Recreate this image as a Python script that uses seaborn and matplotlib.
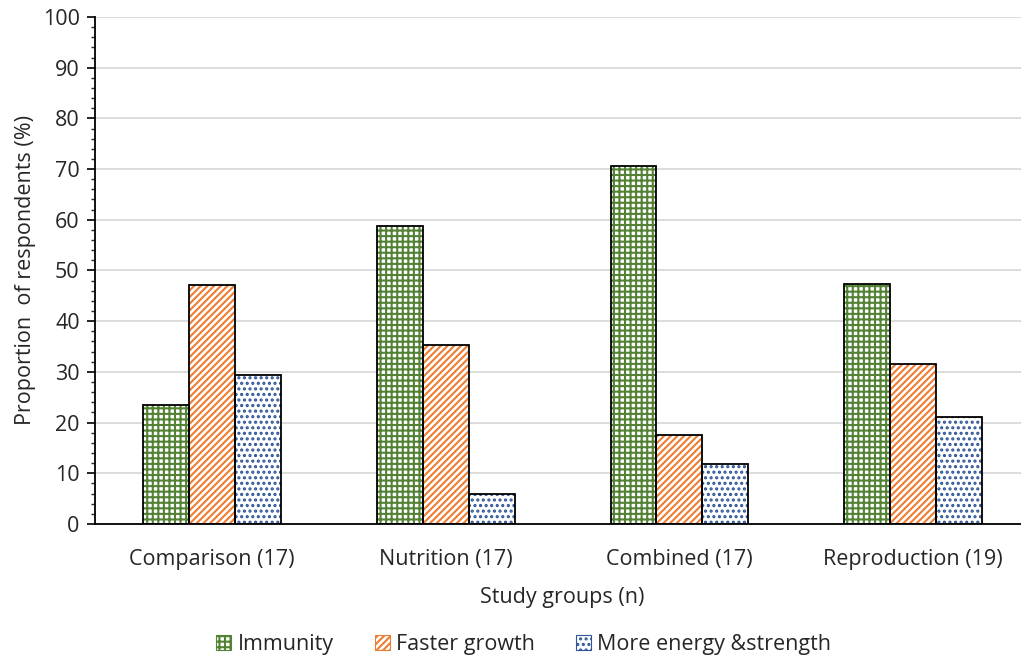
import pandas as pd
import matplotlib.pyplot as plt
import matplotlib.patches as patches
from matplotlib.ticker import MultipleLocator
import seaborn as sns

# data (proportion of respondents, %)
grupos = ["Comparison (17)", "Nutrition (17)", "Combined (17)", "Reproduction (19)"]
immunity = [23.5, 58.8, 70.6, 47.4]
faster_growth = [47.1, 35.3, 17.6, 31.6]
energy = [29.4, 5.9, 11.8, 21.1]
series = ["Immunity", "Faster growth", "More energy &strength"]

cores_hatch = ["#548235", "#ED7D31", "#2F5597"]
hatches = ["+++", "/////", "..."]

df = pd.DataFrame({"Grupo": grupos, series[0]: immunity,
                   series[1]: faster_growth, series[2]: energy})
df_plot = df.melt(id_vars="Grupo", var_name="Serie", value_name="Valor")

sns.set_theme(style="white")
plt.rcParams["font.family"] = ["Open Sans", "DejaVu Sans"]
plt.rcParams["hatch.linewidth"] = 1.5
cor_texto = "#262626"
fs = 15.5

fig = plt.figure(figsize=(10.21, 6.57), dpi=100)
ax = fig.add_axes([0.093, 0.2024, 0.916, 0.7718])

sns.barplot(data=df_plot, x="Grupo", y="Valor", hue="Serie", hue_order=series,
            palette=["white"] * 3, width=0.59, legend=False, ax=ax, zorder=2)

# hatch in series colour, outline in black
for cont, cor, h in zip(ax.containers, cores_hatch, hatches):
    for bar in cont:
        bar.set_facecolor("white")
        bar.set_edgecolor(cor)
        bar.set_hatch(h)
        bar.set_linewidth(0)
        ax.add_patch(patches.Rectangle((bar.get_x(), bar.get_y()), bar.get_width(),
                                       bar.get_height(), fill=False, edgecolor="black",
                                       linewidth=1.3, zorder=3))

ax.set_ylim(0, 100)
ax.yaxis.set_major_locator(MultipleLocator(10))
ax.yaxis.set_minor_locator(MultipleLocator(2))
ax.yaxis.grid(True, color="#d9d9d9", linewidth=1.3, zorder=0)
ax.set_axisbelow(True)
ax.tick_params(axis="y", which="major", direction="out", length=6, width=1.2,
               labelsize=fs, labelcolor=cor_texto, color="black", left=True, pad=5)
ax.tick_params(axis="y", which="minor", direction="out", length=3, width=1, left=True)
ax.tick_params(axis="x", length=0, labelsize=fs, pad=18, labelcolor=cor_texto)
for s in ["top", "right"]:
    ax.spines[s].set_visible(False)
for s in ["left", "bottom"]:
    ax.spines[s].set_color("black")
    ax.spines[s].set_linewidth(1.3)

ax.set_xlabel("Study groups (n)", fontsize=fs, labelpad=12, color=cor_texto)
ax.set_ylabel("Proportion  of respondents (%)", fontsize=fs, labelpad=5, color=cor_texto)

handles = [patches.Patch(facecolor="white", edgecolor=c, hatch=h, linewidth=0.8)
           for c, h in zip(cores_hatch, hatches)]
leg = fig.legend(handles, series, loc="center", bbox_to_anchor=(0.513, 0.019), ncol=3,
                 frameon=False, fontsize=fs, handlelength=0.7, handleheight=0.7,
                 columnspacing=1.9, handletextpad=0.3)
for t in leg.get_texts():
    t.set_color(cor_texto)

fig.savefig("out.png", dpi=100)
